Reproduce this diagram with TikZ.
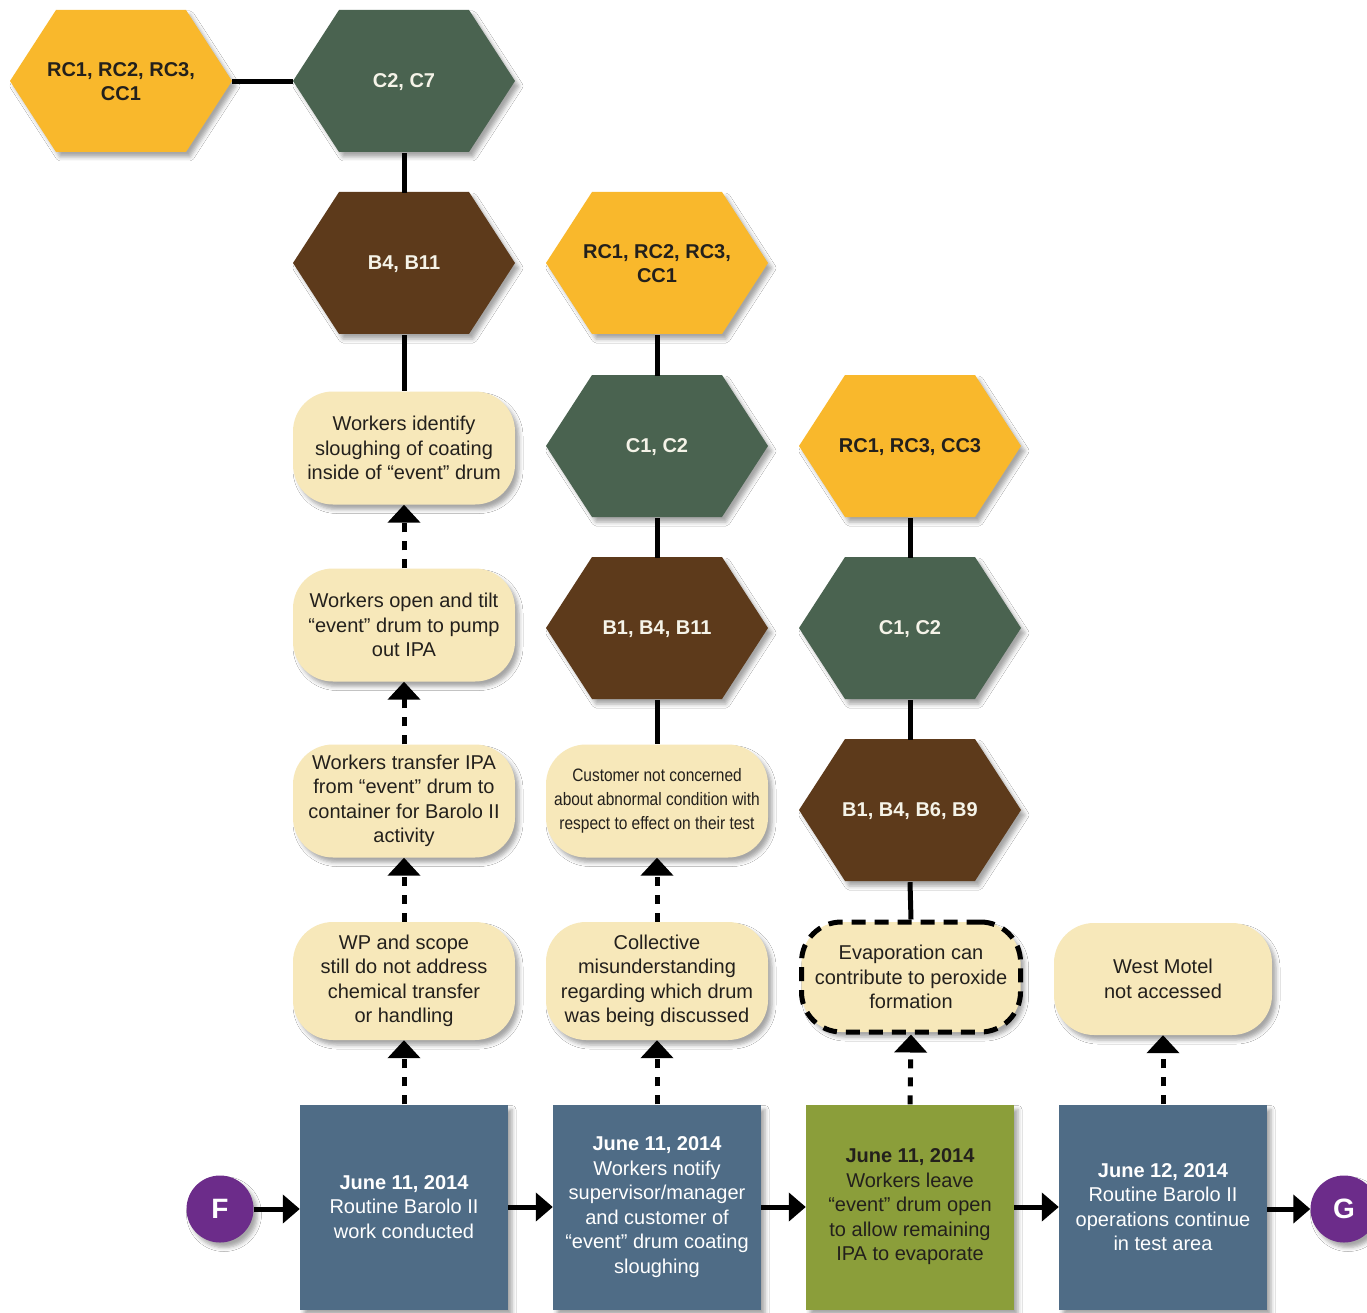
\documentclass[tikz,border=0pt]{standalone}
\usepackage{fontspec}
\setmainfont{Liberation Sans}
\newfontfamily\narrowsans[FakeStretch=0.86]{Liberation Sans}
\usetikzlibrary{arrows.meta,shadows.blur}

\definecolor{hexyellow}{RGB}{249,184,44}
\definecolor{hexgreen}{RGB}{74,99,80}
\definecolor{hexbrown}{RGB}{93,58,27}
\definecolor{cream}{RGB}{247,232,186}
\definecolor{stepblue}{RGB}{79,108,134}
\definecolor{stepolive}{RGB}{139,158,58}
\definecolor{markpurple}{RGB}{108,44,138}
\definecolor{inkdark}{RGB}{35,32,28}
\definecolor{inklight}{RGB}{245,243,232}

\tikzset{
  softshadow/.style={blur shadow={shadow xshift=4pt, shadow yshift=-5pt,
      shadow blur radius=4pt, shadow opacity=35}},
  hexlabel/.style={rectangle, minimum width=222pt, minimum height=142pt,
      inner sep=0pt, align=center, font=\bfseries\fontsize{20}{24}\selectfont},
  note/.style={rectangle, rounded corners=40pt, fill=cream, minimum width=222pt,
      minimum height=113pt, inner sep=0pt, align=center, text=inkdark,
      font=\fontsize{20}{24.5}\selectfont, softshadow},
  datebox/.style={rectangle, minimum width=208pt, minimum height=205pt,
      inner sep=0pt, align=center, font=\fontsize{20}{24.5}\selectfont, softshadow},
  link/.style={line width=5pt, black},
  cause/.style={line width=5pt, black, dash pattern=on 9pt off 9pt,
      -{Triangle[width=32pt,length=18pt]}},
  flow/.style={line width=5pt, black, -{Triangle[width=28pt,length=17pt]}},
  marker/.style={circle, fill=markpurple, minimum size=67pt, inner sep=0pt,
      text=white, font=\bfseries\fontsize{28}{28}\selectfont, softshadow},
}

% hexagon: name, x, y, fill colour, text colour, label
\newcommand{\hexnode}[6]{%
  \fill[#4, softshadow] (#2-111,#3) -- (#2-65,#3-71) -- (#2+65,#3-71)
    -- (#2+111,#3) -- (#2+65,#3+71) -- (#2-65,#3+71) -- cycle;
  \node[hexlabel, text=#5] (#1) at (#2,#3+1) {#6};
}

\begin{document}
\begin{tikzpicture}[x=1pt, y=-1pt]
\useasboundingbox (0,0) rectangle (1367,1313);
\clip (0,0) rectangle (1367,1313);
\fill[white] (0,0) rectangle (1367,1313);

% column 1
\hexnode{hA}{121}{81}{hexyellow}{inkdark}{RC1, RC2, RC3,\\CC1}
\hexnode{hB}{404}{81}{hexgreen}{inklight}{C2, C7}
\hexnode{hC}{404}{263}{hexbrown}{inklight}{B4, B11}
\node[note] (n1) at (404,448) {Workers identify\\sloughing of coating\\inside of “event” drum};
\node[note] (n2) at (404,625) {Workers open and tilt\\“event” drum to pump\\out IPA};
\node[note] (n3) at (404,801) {Workers transfer IPA\\from “event” drum to\\container for Barolo II\\activity};
\node[note, minimum height=118pt] (n4) at (404,981) {WP and scope\\still do not address\\chemical transfer\\or handling};

% column 2
\hexnode{hD}{657}{263}{hexyellow}{inkdark}{RC1, RC2, RC3,\\CC1}
\hexnode{hE}{657}{446}{hexgreen}{inklight}{C1, C2}
\hexnode{hF}{657}{628}{hexbrown}{inklight}{B1, B4, B11}
\node[note, font=\narrowsans\fontsize{18}{24}\selectfont] (m1) at (657,801) {Customer not concerned\\about abnormal condition with\\respect to effect on their test};
\node[note, minimum height=118pt] (m2) at (657,981) {Collective\\misunderstanding\\regarding which drum\\was being discussed};

% column 3
\hexnode{hG}{910}{446}{hexyellow}{inkdark}{RC1, RC3, CC3}
\hexnode{hH}{910}{628}{hexgreen}{inklight}{C1, C2}
\hexnode{hI}{910}{810}{hexbrown}{inklight}{B1, B4, B6, B9}
\node[note, minimum width=219pt, minimum height=110pt, draw=black,
      line width=5pt, dash pattern=on 14pt off 9pt] (e1) at (911,977)
      {Evaporation can\\contribute to peroxide\\formation};

% column 4
\node[note, minimum width=218pt, minimum height=112pt] (w1) at (1163,979) {West Motel\\not accessed};

% timeline
\node[datebox, fill=stepblue, text=white] (d1) at (404,1207)
  {{\bfseries June 11, 2014}\\Routine Barolo II\\work conducted};
\node[datebox, fill=stepblue, text=white] (d2) at (657,1207)
  {{\bfseries June 11, 2014}\\Workers notify\\supervisor/manager\\and customer of\\“event” drum coating\\sloughing};
\node[datebox, fill=stepolive, text=inkdark] (d3) at (910,1207)
  {{\bfseries June 11, 2014}\\Workers leave\\“event” drum open\\to allow remaining\\IPA to evaporate};
\node[datebox, fill=stepblue, text=white] (d4) at (1163,1207)
  {{\bfseries June 12, 2014}\\Routine Barolo II\\operations continue\\in test area};
\node[marker] (F) at (220,1209) {F};
\node[marker] (G) at (1344,1209) {G};

% solid links between hexagons and notes
\draw[link] (hA.east) -- (hB.west);
\draw[link] (hB.south) -- (hC.north);
\draw[link] (hC.south) -- (n1.north);
\draw[link] (hD.south) -- (hE.north);
\draw[link] (hE.south) -- (hF.north);
\draw[link] (hF.south) -- (m1.north);
\draw[link] (hG.south) -- (hH.north);
\draw[link] (hH.south) -- (hI.north);
\draw[link] (hI.south) -- (e1.north);

% dashed causal arrows
\draw[cause] (d1.north) -- (n4.south);
\draw[cause] (n4.north) -- (n3.south);
\draw[cause] (n3.north) -- (n2.south);
\draw[cause] (n2.north) -- (n1.south);
\draw[cause] (d2.north) -- (m2.south);
\draw[cause] (m2.north) -- (m1.south);
\draw[cause] (d3.north) -- (e1.south);
\draw[cause] (d4.north) -- (w1.south);

% timeline arrows
\draw[flow] (F.east) -- (F.east -| d1.west);
\draw[flow] (d1.east) -- (d2.west);
\draw[flow] (d2.east) -- (d3.west);
\draw[flow] (d3.east) -- (d4.west);
\draw[flow] (d4.east |- G.west) -- (G.west);
\end{tikzpicture}
\end{document}
